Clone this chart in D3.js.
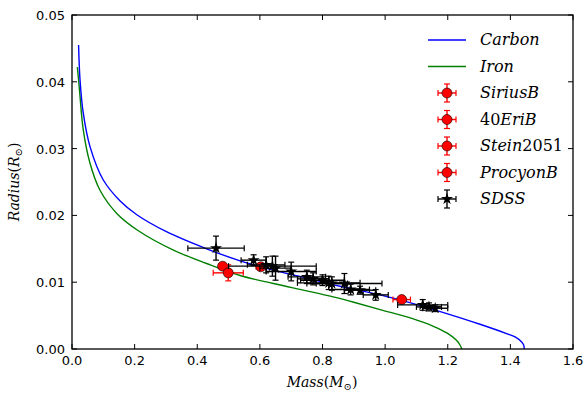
<!DOCTYPE html>
<html>
<head>
<meta charset="utf-8">
<script src="https://cdn.jsdelivr.net/npm/d3@7"></script>
<style>
  body { margin: 0; background: #fff; }
  svg text { font-family: "DejaVu Sans", sans-serif; }
  .math { font-family: "DejaVu Serif", serif; font-style: italic; }
</style>
</head>
<body>
<div id="chart"></div>
<script>
// mass-radius curves
var carbonMass = [0.021, 0.0256, 0.036, 0.0575, 0.1, 0.153, 0.207, 0.3, 0.43, 0.537, 0.643, 0.75, 0.856, 0.984, 1.09, 1.197, 1.303, 1.388, 1.415, 1.436, 1.4425, 1.4445];
var carbonRad  = [0.0455, 0.0403, 0.0353, 0.0303, 0.0253, 0.0222, 0.0201, 0.0176, 0.0150, 0.0132, 0.0118, 0.0106, 0.0094, 0.0081, 0.0068, 0.0053, 0.0037, 0.0023, 0.0018, 0.00105, 0.0006, 0];
var ironMass = [0.017, 0.021, 0.0256, 0.036, 0.0575, 0.089, 0.143, 0.212, 0.324, 0.43, 0.537, 0.643, 0.75, 0.834, 0.9, 0.984, 1.09, 1.154, 1.197, 1.228, 1.239, 1.245];
var ironRad  = [0.0422, 0.0403, 0.0378, 0.0328, 0.0278, 0.0238, 0.0203, 0.0177, 0.0148, 0.0128, 0.0110, 0.0098, 0.0087, 0.0078, 0.0070, 0.0059, 0.0045, 0.0034, 0.0024, 0.0013, 0.0006, 0];

// individual white dwarfs
var starNames = ["SiriusB", "40EriB", "Stein2051", "ProcyonB"];
var starMass  = [1.053, 0.481, 0.499, 0.603];
var starMErr  = [0.028, 0.012, 0.048, 0.015];
var starRad   = [0.0074, 0.0124, 0.0114, 0.0123];
var starRErr  = [0.0003, 0.0005, 0.0012, 0.0005];

// SDSS sample
var sdssMass = [0.46, 0.58, 0.62, 0.64, 0.65, 0.70, 0.75, 0.77, 0.80, 0.82, 0.83, 0.87, 0.89, 0.92, 0.97, 1.12, 1.14, 1.16];
var sdssMErr = [0.09, 0.04, 0.06, 0.14, 0.05, 0.08, 0.06, 0.05, 0.07, 0.10, 0.05, 0.12, 0.06, 0.05, 0.04, 0.08, 0.04, 0.04];
var sdssRad  = [0.0151, 0.0133, 0.0126, 0.0124, 0.0121, 0.0116, 0.0108, 0.0105, 0.0103, 0.0099, 0.0098, 0.0098, 0.0089, 0.0088, 0.0081, 0.0066, 0.0063, 0.0061];
var sdssRErr = [0.0018, 0.0008, 0.0012, 0.0015, 0.0018, 0.0014, 0.0010, 0.0009, 0.0008, 0.0010, 0.0010, 0.0015, 0.0008, 0.0006, 0.0008, 0.0008, 0.0006, 0.0005];

var xTicks = [0, 0.2, 0.4, 0.6, 0.8, 1.0, 1.2, 1.4, 1.6];
var yTicks = [0, 0.01, 0.02, 0.03, 0.04, 0.05];

var margin = { top: 15, right: 15, bottom: 50, left: 72 },
    width = 588 - margin.left - margin.right,
    height = 399 - margin.top - margin.bottom;

var svg = d3.select("#chart").append("svg")
    .attr("width", 588).attr("height", 399);
var g = svg.append("g")
    .attr("transform", "translate(" + margin.left + "," + margin.top + ")");

var x = d3.scaleLinear().domain([0, 1.6]).range([0, width]);
var y = d3.scaleLinear().domain([0, 0.05]).range([height, 0]);

// ticks (inward, on all four sides)
var tl = 5;
xTicks.forEach(function (t) {
    g.append("line").attr("x1", x(t)).attr("x2", x(t)).attr("y1", height).attr("y2", height - tl).attr("stroke", "#000");
    g.append("line").attr("x1", x(t)).attr("x2", x(t)).attr("y1", 0).attr("y2", tl).attr("stroke", "#000");
    g.append("text").attr("x", x(t)).attr("y", height + 16)
        .attr("text-anchor", "middle").style("font-size", "13px")
        .text(d3.format(".1f")(t));
});
yTicks.forEach(function (t) {
    g.append("line").attr("x1", 0).attr("x2", tl).attr("y1", y(t)).attr("y2", y(t)).attr("stroke", "#000");
    g.append("line").attr("x1", width).attr("x2", width - tl).attr("y1", y(t)).attr("y2", y(t)).attr("stroke", "#000");
    g.append("text").attr("x", -7).attr("y", y(t) + 5)
        .attr("text-anchor", "end").style("font-size", "13px")
        .text(d3.format(".2f")(t));
});

// curves
var line = d3.line().x(function (d) { return x(d[0]); }).y(function (d) { return y(d[1]); })
    .curve(d3.curveCatmullRom.alpha(0.5));
var clip = g.append("defs").append("clipPath").attr("id", "clip")
    .append("rect").attr("width", width).attr("height", height);
var plot = g.append("g").attr("clip-path", "url(#clip)");

plot.append("path").datum(d3.zip(ironMass, ironRad))
    .attr("d", line).attr("fill", "none").attr("stroke", "#008000").attr("stroke-width", 1.4);
plot.append("path").datum(d3.zip(carbonMass, carbonRad))
    .attr("d", line).attr("fill", "none").attr("stroke", "#0000ff").attr("stroke-width", 1.4);

var star = d3.symbol().type(d3.symbolStar).size(45);
var cap = 3;

function errorbar(sel, cx, cy, x0, x1, y0, y1, color) {
    sel.append("line").attr("x1", x0).attr("x2", x1).attr("y1", cy).attr("y2", cy).attr("stroke", color).attr("stroke-width", 1.4);
    sel.append("line").attr("x1", cx).attr("x2", cx).attr("y1", y0).attr("y2", y1).attr("stroke", color).attr("stroke-width", 1.4);
    [x0, x1].forEach(function (v) {
        sel.append("line").attr("x1", v).attr("x2", v).attr("y1", cy - cap).attr("y2", cy + cap).attr("stroke", color).attr("stroke-width", 1.2);
    });
    [y0, y1].forEach(function (v) {
        sel.append("line").attr("x1", cx - cap).attr("x2", cx + cap).attr("y1", v).attr("y2", v).attr("stroke", color).attr("stroke-width", 1.2);
    });
}

// white dwarfs
starNames.forEach(function (n, i) {
    var eg = plot.append("g");
    errorbar(eg, x(starMass[i]), y(starRad[i]),
        x(starMass[i] - starMErr[i]), x(starMass[i] + starMErr[i]),
        y(starRad[i] - starRErr[i]), y(starRad[i] + starRErr[i]), "#ff0000");
    eg.append("circle").attr("cx", x(starMass[i])).attr("cy", y(starRad[i])).attr("r", 5)
        .attr("fill", "#ff0000").attr("stroke", "#000").attr("stroke-width", 0.6);
});

// SDSS
sdssMass.forEach(function (m, i) {
    var eg = plot.append("g");
    errorbar(eg, x(m), y(sdssRad[i]),
        x(m - sdssMErr[i]), x(m + sdssMErr[i]),
        y(sdssRad[i] - sdssRErr[i]), y(sdssRad[i] + sdssRErr[i]), "#000");
    eg.append("path").attr("d", star).attr("transform", "translate(" + x(m) + "," + y(sdssRad[i]) + ")")
        .attr("fill", "#000");
});

// frame
g.append("rect").attr("width", width).attr("height", height)
    .attr("fill", "none").attr("stroke", "#000").attr("stroke-width", 1.3);

// axis labels
var xl = svg.append("text").attr("class", "math")
    .attr("x", 322).attr("y", 387).attr("text-anchor", "middle").style("font-size", "14px");
xl.append("tspan").text("Mass");
xl.append("tspan").style("font-style", "normal").text("(");
xl.append("tspan").text("M");
xl.append("tspan").attr("dy", 3).style("font-size", "10px").style("font-style", "normal").text("\u2299");
xl.append("tspan").attr("dy", -3).style("font-style", "normal").text(")");

var yl = svg.append("text").attr("class", "math")
    .attr("transform", "translate(19,182) rotate(-90)")
    .attr("text-anchor", "middle").style("font-size", "14px");
yl.append("tspan").text("Radius");
yl.append("tspan").style("font-style", "normal").text("(");
yl.append("tspan").text("R");
yl.append("tspan").attr("dy", 3).style("font-size", "10px").style("font-style", "normal").text("\u2299");
yl.append("tspan").attr("dy", -3).style("font-style", "normal").text(")");

// legend
var legend = svg.append("g");
var lx0 = 428, lx1 = 466, lxm = 447, tx = 480, ly0 = 40, dy = 26.5;
var entries = [
    { kind: "line", color: "#0000ff", parts: [["Carbon", true]] },
    { kind: "line", color: "#008000", parts: [["Iron", true]] },
    { kind: "red", parts: [["SiriusB", true]] },
    { kind: "red", parts: [["40", false], ["EriB", true]] },
    { kind: "red", parts: [["Stein", true], ["2051", false]] },
    { kind: "red", parts: [["ProcyonB", true]] },
    { kind: "sdss", parts: [["SDSS", true]] }
];
entries.forEach(function (e, i) {
    var cy = ly0 + i * dy;
    if (e.kind === "line") {
        legend.append("line").attr("x1", lx0).attr("x2", lx1).attr("y1", cy).attr("y2", cy)
            .attr("stroke", e.color).attr("stroke-width", 1.4);
    } else {
        var col = e.kind === "red" ? "#ff0000" : "#000";
        errorbar(legend, lxm, cy, lxm - 9, lxm + 9, cy - 9, cy + 9, col);
        if (e.kind === "red") {
            legend.append("circle").attr("cx", lxm).attr("cy", cy).attr("r", 5)
                .attr("fill", "#ff0000").attr("stroke", "#000").attr("stroke-width", 0.6);
        } else {
            legend.append("path").attr("d", star).attr("transform", "translate(" + lxm + "," + cy + ")").attr("fill", "#000");
        }
    }
    var t = legend.append("text").attr("class", "math").attr("x", tx).attr("y", cy + 5)
        .style("font-size", "16px");
    e.parts.forEach(function (p) {
        t.append("tspan").style("font-style", p[1] ? "italic" : "normal").text(p[0]);
    });
});
</script>
</body>
</html>
